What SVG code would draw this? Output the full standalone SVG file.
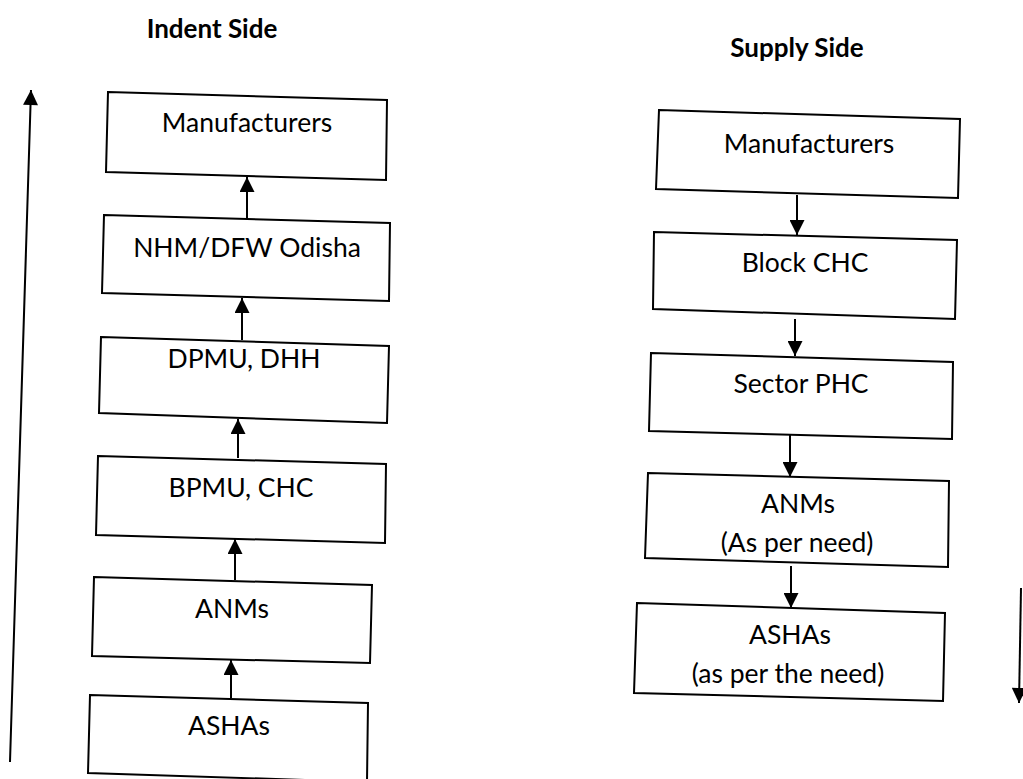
<svg xmlns="http://www.w3.org/2000/svg" width="1023" height="779" viewBox="0 0 1023 779">
<style>
.box{fill:#fff;stroke:#000;stroke-width:2;stroke-linejoin:miter}
.t{font-family:Lato,"Open Sans","Liberation Sans",sans-serif;font-size:26.5px;fill:#000;text-anchor:middle}
.h{font-family:Lato,"Open Sans","Liberation Sans",sans-serif;font-size:26px;font-weight:bold;fill:#000;text-anchor:middle}
.c{fill:none;stroke:#000;stroke-width:2}
</style>
<defs>
<marker id="ah" viewBox="0 0 10 10" refX="10" refY="5" markerWidth="8" markerHeight="7.5" markerUnits="strokeWidth" orient="auto">
<path d="M0,0 L10,5 L0,10 Z" fill="#000"/>
</marker>
</defs>
<rect width="1023" height="779" fill="#fff"/>
<text class="h" x="212" y="38">Indent Side</text>
<text class="h" x="797" y="57">Supply Side</text>

<g id="connectors">
<line class="c" x1="10" y1="762" x2="31" y2="90" marker-end="url(#ah)"/>
<line class="c" x1="247" y1="218" x2="247" y2="177" marker-end="url(#ah)"/>
<line class="c" x1="242" y1="340" x2="242" y2="298" marker-end="url(#ah)"/>
<line class="c" x1="238" y1="458" x2="238" y2="419" marker-end="url(#ah)"/>
<line class="c" x1="235" y1="580" x2="235" y2="539" marker-end="url(#ah)"/>
<line class="c" x1="231" y1="698" x2="231" y2="660" marker-end="url(#ah)"/>
<line class="c" x1="797" y1="195" x2="797" y2="235" marker-end="url(#ah)"/>
<line class="c" x1="795" y1="319" x2="795" y2="356" marker-end="url(#ah)"/>
<line class="c" x1="790" y1="435" x2="790" y2="477" marker-end="url(#ah)"/>
<line class="c" x1="791" y1="566" x2="791" y2="608" marker-end="url(#ah)"/>
<line class="c" x1="1021" y1="588" x2="1019" y2="703" marker-end="url(#ah)"/>
</g>

<g id="indent-manufacturers">
<polygon class="box" points="108,92 387,100 386,180 106,172"/>
<text class="t" x="247" y="132">Manufacturers</text>
</g>
<g id="indent-nhm">
<polygon class="box" points="104,215 390,223 389,301 102,293"/>
<text class="t" x="247" y="257">NHM/DFW Odisha</text>
</g>
<g id="indent-dpmu">
<polygon class="box" points="101,337 389,346 387,423 99,413"/>
<text class="t" x="244" y="368">DPMU, DHH</text>
</g>
<g id="indent-bpmu">
<polygon class="box" points="98,456 386,464 385,543 96,535"/>
<text class="t" x="241" y="497">BPMU, CHC</text>
</g>
<g id="indent-anms">
<polygon class="box" points="94,577 372,585 370,663 92,656"/>
<text class="t" x="232" y="618">ANMs</text>
</g>
<g id="indent-ashas">
<polygon class="box" points="90,695 368,703 367,782 88,773"/>
<text class="t" x="229" y="735">ASHAs</text>
</g>

<g id="supply-manufacturers">
<polygon class="box" points="659,110 960,119 958,198 656,189"/>
<text class="t" x="809" y="153">Manufacturers</text>
</g>
<g id="supply-block-chc">
<polygon class="box" points="654,232 957,240 955,319 653,309"/>
<text class="t" x="805" y="272">Block CHC</text>
</g>
<g id="supply-sector-phc">
<polygon class="box" points="651,353 953,362 952,439 649,431"/>
<text class="t" x="801" y="393">Sector PHC</text>
</g>
<g id="supply-anms">
<polygon class="box" points="648,473 949,481 948,567 645,558"/>
<text class="t" x="798" y="513">ANMs</text>
<text class="t" x="797" y="552">(As per need)</text>
</g>
<g id="supply-ashas">
<polygon class="box" points="637,603 945,613 943,701 634,693"/>
<text class="t" x="790" y="644">ASHAs</text>
<text class="t" x="788" y="683">(as per the need)</text>
</g>
</svg>
